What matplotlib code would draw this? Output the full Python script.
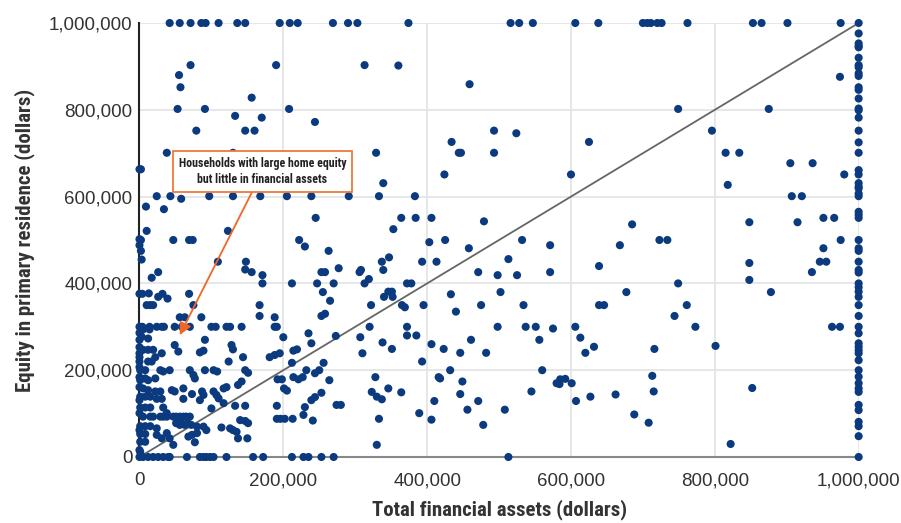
import matplotlib
matplotlib.use("Agg")
import matplotlib.pyplot as plt
from matplotlib import font_manager
from matplotlib.ticker import FuncFormatter

# Values in thousands of dollars
top_row_x = [42, 56, 71, 86, 92, 110, 136, 147, 195, 209, 220, 269, 290, 303, 374, 516, 528,
             547, 606, 638, 700, 706, 711, 720, 726, 762, 853, 865, 901, 975, 1000]

right_col_y = [976, 953, 947, 944, 920, 903, 898, 884, 878, 852, 846, 826, 803, 799, 782, 752,
               725, 701, 661, 651, 631, 623, 619, 607, 601, 565, 558, 551, 500, 481, 475, 450,
               431, 425, 400, 391, 381, 369, 350, 325, 300, 285, 262, 254, 246, 239, 223, 200,
               185, 170, 158, 150, 120, 108, 81, 71, 48, 0]

left_col_y = [663, 502, 488, 376, 286, 270, 253, 230, 207, 184, 161, 131, 101, 62, 16]

row300_x = [0, 4, 14, 24, 31, 34, 49, 59, 70, 100, 106, 121, 126, 142, 188, 191, 320, 372,
            498, 537, 551, 606, 773, 963, 974]
row93_x = [29, 33, 38, 47, 51, 56, 61, 65, 70]
bottom_row_x = [0, 5, 12, 19, 26, 33, 40, 42, 66, 84, 89, 93, 98, 103, 121, 158, 172, 212,
                228, 235, 253, 270, 513]

other_points = [
    (71, 903), (55, 880), (57, 852), (190, 903), (313, 903), (156, 828), (53, 802), (91, 802),
    (208, 802), (133, 786), (170, 782), (79, 752), (147, 752), (160, 752), (244, 772), (38, 701),
    (130, 701), (329, 701), (2, 663),
    (360, 902), (459, 859), (434, 726), (444, 701), (447, 701), (493, 752), (524, 746),
    (493, 701), (424, 651), (600, 651), (625, 726),
    (974, 876), (749, 802), (875, 802), (796, 752), (815, 701), (834, 701), (905, 677),
    (936, 677), (980, 651), (818, 627),
    (24, 601), (43, 601), (58, 595), (97, 601), (130, 601), (168, 601), (205, 601), (239, 601),
    (291, 601), (9, 577), (34, 571), (245, 551), (10, 521), (123, 521), (2, 500), (47, 500),
    (69, 500), (74, 500), (222, 500), (230, 485), (2, 475), (263, 475), (3, 455), (109, 450),
    (148, 450), (147, 432), (156, 426), (253, 426), (258, 426), (277, 435), (171, 419),
    (26, 426), (17, 413), (171, 400), (212, 400), (247, 400), (270, 400), (306, 426),
    (308, 431), (319, 410), (313, 400), (4, 376), (13, 377), (26, 369), (32, 376), (39, 365),
    (10, 350), (15, 350), (19, 350), (69, 376), (75, 350), (255, 380), (265, 360), (167, 350),
    (167, 325), (188, 322), (253, 325), (258, 330), (322, 350), (56, 322), (63, 322), (86, 322),
    (200, 276), (235, 285), (239, 262), (273, 279), (307, 276), (310, 239), (214, 245),
    (219, 248), (181, 230), (188, 235), (195, 239), (212, 217), (256, 217), (232, 200),
    (244, 193), (250, 200), (264, 177), (192, 179), (198, 179), (214, 184), (221, 179),
    (227, 184), (201, 158), (205, 153), (253, 148), (239, 131), (244, 138), (230, 115),
    (191, 118), (228, 97), (241, 84), (191, 88), (196, 88), (202, 88), (213, 88), (274, 120),
    (280, 120), (323, 150), (330, 139), (330, 28),
    (49, 258), (54, 243), (91, 270), (128, 258), (130, 248), (84, 241), (89, 245), (144, 230),
    (124, 220), (103, 200), (108, 197), (91, 200), (70, 200), (75, 189), (77, 181), (147, 200),
    (151, 194), (142, 174), (137, 166), (117, 158), (121, 161), (61, 158), (73, 145), (87, 151),
    (89, 143), (84, 131), (103, 151), (107, 143), (110, 135), (117, 124), (133, 118), (147, 118),
    (100, 112), (140, 85), (147, 83), (151, 78), (126, 66), (130, 62), (135, 58), (114, 68),
    (137, 43), (150, 43), (77, 34), (47, 28), (33, 114), (38, 101), (31, 134), (24, 134),
    (22, 151), (29, 151), (61, 134), (45, 154), (49, 151), (29, 200), (33, 197), (42, 200),
    (22, 181),
    (51, 78), (58, 78), (67, 78), (56, 74), (63, 74), (72, 74), (80, 70), (89, 70), (93, 62),
    (80, 55), (73, 51), (68, 47), (24, 66), (24, 51), (31, 43), (38, 55), (42, 43), (12, 220),
    (17, 220), (22, 230), (5, 247), (12, 247), (19, 247), (31, 239), (3, 277), (12, 273),
    (5, 294), (14, 294), (1, 200), (8, 200), (1, 177), (8, 181), (12, 177), (5, 158), (12, 154),
    (1, 139), (8, 139), (15, 139), (1, 114), (8, 114), (15, 114), (5, 93), (15, 93), (19, 93),
    (1, 71), (8, 71), (15, 71), (1, 53), (8, 53), (1, 35), (8, 35), (1, 12), (0, 239), (0, 220),
    (339, 631), (333, 601), (383, 601), (364, 551), (384, 551), (406, 551), (353, 525),
    (479, 543), (403, 495), (425, 500), (458, 481), (532, 500), (571, 488), (337, 450),
    (347, 460), (339, 431), (393, 450), (413, 450), (471, 426), (498, 419), (525, 419),
    (513, 456), (571, 426), (639, 440), (372, 400), (378, 400), (346, 381), (351, 381),
    (340, 369), (352, 369), (433, 375), (502, 380), (365, 350), (369, 345), (395, 350),
    (440, 335), (475, 350), (534, 350), (639, 350), (646, 350), (575, 296), (668, 488),
    (372, 280), (385, 280), (338, 264), (351, 249), (393, 220), (406, 260), (423, 249),
    (446, 240), (461, 270), (482, 240), (556, 270), (613, 275), (620, 240), (632, 254),
    (432, 200), (416, 184), (418, 181), (449, 174), (560, 200), (580, 170), (585, 179),
    (592, 180), (601, 170), (584, 168), (545, 151), (328, 184), (337, 133), (346, 158),
    (364, 149), (410, 129), (446, 145), (471, 129), (456, 109), (508, 109), (389, 101),
    (406, 86), (478, 74), (333, 88), (607, 129), (627, 139), (662, 144),
    (907, 601), (921, 601), (685, 536), (723, 500), (734, 500), (848, 541), (915, 541),
    (951, 551), (966, 551), (975, 500), (951, 481), (946, 450), (955, 450), (848, 447),
    (935, 426), (848, 408), (677, 380), (749, 400), (878, 380), (761, 350), (744, 325),
    (716, 249), (801, 256), (713, 187), (715, 151), (852, 159), (688, 98), (708, 79), (822, 30),
]

tick_values = [0, 200000, 400000, 600000, 800000, 1000000]
annotation_text = "Households with large home equity\nbut little in financial assets"
x_label = "Total financial assets (dollars)"
y_label = "Equity in primary residence (dollars)"

# Assemble (values in dollars)
xs, ys = [], []
for v in top_row_x:
    xs.append(v * 1000); ys.append(1000 * 1000)
for v in right_col_y:
    xs.append(1000 * 1000); ys.append(v * 1000)
for v in left_col_y:
    xs.append(0); ys.append(v * 1000)
for v in row300_x:
    xs.append(v * 1000); ys.append(300 * 1000)
for v in row93_x:
    xs.append(v * 1000); ys.append(93 * 1000)
for v in bottom_row_x:
    xs.append(v * 1000); ys.append(0)
for a, b in other_points:
    xs.append(a * 1000); ys.append(b * 1000)

# Pick a condensed font if one is available
entries = font_manager.fontManager.ttflist
names = {f.name for f in entries}
label_font = dict(family=["Liberation Sans", "DejaVu Sans"], fontstretch="normal")
narrow_found = False
for cand in ["Liberation Sans Narrow", "Roboto Condensed", "Open Sans Condensed",
             "DejaVu Sans Condensed"]:
    if cand in names:
        label_font = dict(family=[cand, "DejaVu Sans"], fontstretch="normal")
        narrow_found = True
        break
if not narrow_found:
    if any(f.name == "DejaVu Sans" and f.stretch == "condensed" and f.weight in ("bold", 700)
           for f in entries):
        label_font = dict(family=["DejaVu Sans"], fontstretch="condensed")
        narrow_found = True

label_size = 15 if narrow_found else 13.2
note_size = 8.6 if narrow_found else 7.4

fig = plt.figure(figsize=(9.01, 5.23), dpi=100)
ax = fig.add_axes([0.1548, 0.1262, 0.953 - 0.1548, 0.956 - 0.1262])

ax.set_xlim(0, 1e6)
ax.set_ylim(0, 1e6)

ax.grid(True, color="#e3e3e3", linewidth=1.2, zorder=0)
ax.set_axisbelow(True)

ax.plot([0, 1e6], [0, 1e6], color="#666666", linewidth=1.3, zorder=2, clip_on=False)
ax.scatter(xs, ys, s=34, color="#0b3a7e", edgecolors="none", zorder=3, clip_on=False)

for side in ["top", "right"]:
    ax.spines[side].set_visible(False)
ax.spines["left"].set_color("#222222")
ax.spines["left"].set_linewidth(1.5)
ax.spines["bottom"].set_color("#888888")
ax.spines["bottom"].set_linewidth(1.5)

fmt = FuncFormatter(lambda v, p: "{:,.0f}".format(v))
ax.set_xticks(tick_values)
ax.set_yticks(tick_values)
ax.xaxis.set_major_formatter(fmt)
ax.yaxis.set_major_formatter(fmt)
ax.tick_params(axis="both", length=0, labelsize=13.5, labelcolor="#333333")
ax.tick_params(axis="x", pad=11)
ax.tick_params(axis="y", pad=5)
for lab in ax.get_xticklabels() + ax.get_yticklabels():
    lab.set_family(["Liberation Sans", "DejaVu Sans"])

ax.set_xlabel(x_label, fontsize=label_size, fontweight="bold", color="#333333",
              labelpad=7, **label_font)
ax.set_ylabel(y_label, fontsize=label_size, fontweight="bold", color="#333333",
              labelpad=10, **label_font)

ax.annotate(annotation_text, xy=(56000, 281000), xytext=(171000, 658000),
            ha="center", va="center", fontsize=note_size, fontweight="bold",
            color="#222222", linespacing=1.35,
            bbox=dict(boxstyle="square,pad=0.45", fc="white", ec="#f07a3a", lw=1.3),
            arrowprops=dict(arrowstyle="-|>", color="#f26522", lw=1.3, mutation_scale=18,
                            shrinkA=0, shrinkB=0),
            zorder=5, **label_font)

fig.savefig("out.png", dpi=100)
